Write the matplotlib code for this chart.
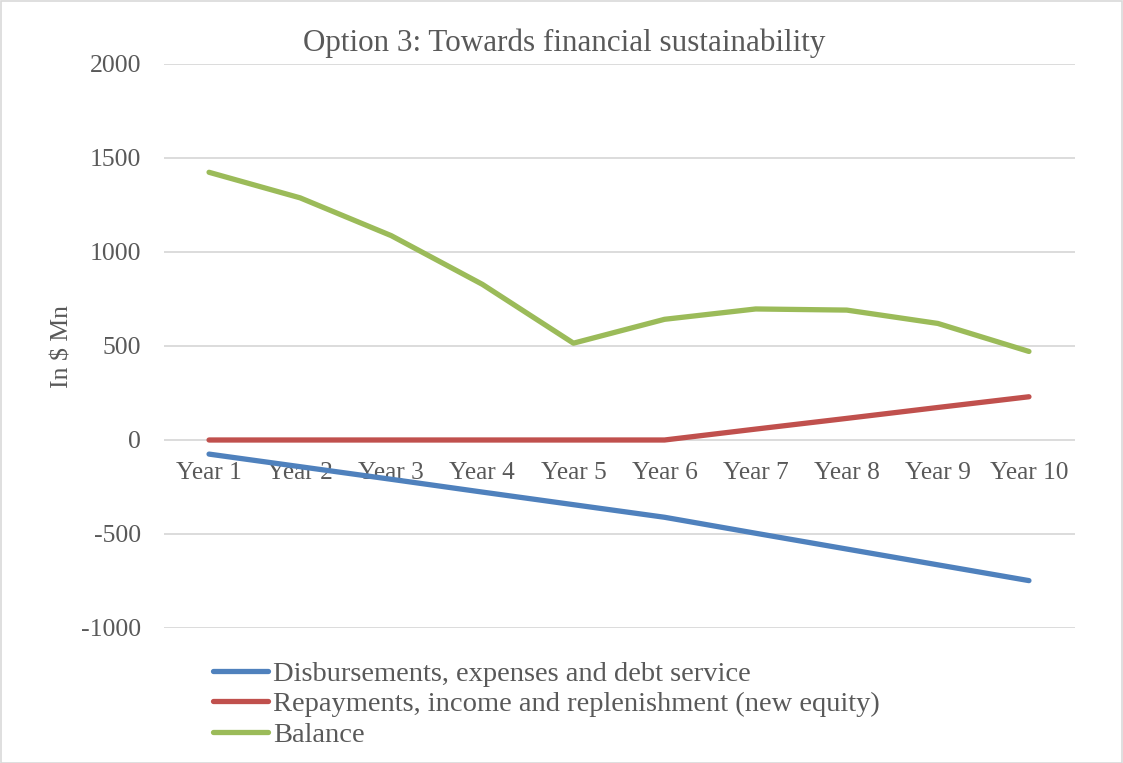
import matplotlib
matplotlib.use("Agg")
import matplotlib.pyplot as plt
from matplotlib.patches import Rectangle

categories = ["Year 1", "Year 2", "Year 3", "Year 4", "Year 5",
              "Year 6", "Year 7", "Year 8", "Year 9", "Year 10"]
disbursements = [-75, -142, -209, -277, -344, -411, -496, -580, -664, -748]
repayments = [0, 0, 0, 0, 0, 0, 58, 115, 173, 230]
balance = [1424, 1288, 1087, 828, 515, 642, 697, 691, 620, 471]
series_names = ["Disbursements, expenses and debt service",
                "Repayments, income and replenishment (new equity)",
                "Balance"]
yticks = [-1000, -500, 0, 500, 1000, 1500, 2000]

plt.rcParams['font.family'] = ['Liberation Serif', 'DejaVu Serif']
txt = '#595959'

fig = plt.figure(figsize=(11.23, 7.63), dpi=100)
ax = fig.add_axes([163.5 / 1123, 1 - 628 / 763, (1074.5 - 163.5) / 1123, (628 - 64) / 763])

x = list(range(len(categories)))
colors = ['#4F81BD', '#C0504D', '#9BBB59']
for vals, c, n in zip([disbursements, repayments, balance], colors, series_names):
    ax.plot(x, vals, color=c, lw=3.8, solid_capstyle='round', solid_joinstyle='round', label=n)

ax.set_xlim(-0.5, len(categories) - 0.5)
ax.set_ylim(-1000, 2000)
ax.set_yticks(yticks)
ax.set_yticklabels([str(v) for v in yticks])
ax.grid(axis='y', color='#D9D9D9', lw=1.3)
ax.set_axisbelow(True)
for s in ['top', 'right', 'left']:
    ax.spines[s].set_visible(False)
ax.spines['bottom'].set_position(('data', 0))
ax.spines['bottom'].set_visible(False)
ax.set_xticks(x)
ax.set_xticklabels(categories)
ax.tick_params(axis='x', length=0, pad=15.5, labelsize=18.3, labelcolor=txt)
ax.tick_params(axis='y', length=0, pad=16, labelsize=18.5, labelcolor=txt)
ax.set_ylabel("In $ Mn", fontsize=18.5, color=txt, labelpad=5.5)

fig.text(564 / 1123, 1 - 43 / 763, "Option 3: Towards financial sustainability",
         ha='center', va='center', fontsize=22.4, color=txt)

leg = fig.legend(loc='upper left', bbox_to_anchor=(213 / 1123, 1 - 661 / 763),
                 frameon=False, fontsize=20.5, labelcolor=txt, handlelength=1.93,
                 handletextpad=0.18, labelspacing=0.16, borderaxespad=0, borderpad=0)

fig.patches.append(Rectangle((0.5 / 1123, 0.5 / 763), 1 - 1.5 / 1123, 1 - 1.5 / 763,
                             transform=fig.transFigure, fill=False, ec='#D9D9D9', lw=1.2))

fig.savefig("out.png", dpi=100)
